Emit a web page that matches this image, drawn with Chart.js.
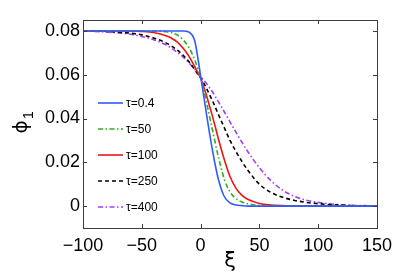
<!DOCTYPE html>
<html>
<head>
<meta charset="utf-8">
<script src="https://cdn.jsdelivr.net/npm/chart.js@4.4.0/dist/chart.umd.min.js"></script>
<style>
html,body{margin:0;padding:0;background:#fff;}
#wrap{width:417px;height:275px;}
</style>
</head>
<body>
<div id="wrap"><canvas id="c" width="417" height="275"></canvas></div>
<script>
// ---- data ----
const xi = [-100,-80,-60,-50,-40,-30,-25,-20,-15,-10,-5,-2,0,2,5,8,10,12,15,20,25,30,35,40,50,60,70,80,90,100,120,150];
const tau04  = [0.0800,0.0800,0.0800,0.0800,0.0800,0.0800,0.0800,0.0800,0.0800,0.0795,0.0755,0.0665,0.0595,0.0525,0.0420,0.0320,0.0258,0.0200,0.0125,0.0045,0.0015,0.0005,0.0002,0,0,0,0,0,0,0,0,0];
const tau50  = [0.0800,0.0800,0.0800,0.0800,0.0800,0.0797,0.0793,0.0782,0.0760,0.0725,0.0668,0.0622,0.0588,0.0545,0.0475,0.0400,0.0350,0.0300,0.0228,0.0125,0.0065,0.0035,0.0019,0.0011,0.0003,0,0,0,0,0,0,0];
const tau100 = [0.0800,0.0800,0.0800,0.0798,0.0793,0.0779,0.0768,0.0750,0.0722,0.0685,0.0637,0.0605,0.0585,0.0555,0.0505,0.0450,0.0412,0.0372,0.0310,0.0215,0.0135,0.0082,0.0050,0.0031,0.0012,0.0005,0.0002,0,0,0,0,0];
const tau250 = [0.0800,0.0798,0.0790,0.0782,0.0768,0.0747,0.0732,0.0713,0.0690,0.0660,0.0624,0.0600,0.0586,0.0568,0.0538,0.0505,0.0482,0.0458,0.0420,0.0360,0.0300,0.0250,0.0205,0.0165,0.0100,0.0062,0.0040,0.0026,0.0017,0.0011,0.0004,0];
const tau400 = [0.0800,0.0795,0.0785,0.0775,0.0760,0.0738,0.0722,0.0703,0.0682,0.0655,0.0625,0.0606,0.0593,0.0580,0.0560,0.0538,0.0522,0.0505,0.0478,0.0432,0.0385,0.0338,0.0293,0.0250,0.0175,0.0115,0.0072,0.0044,0.0027,0.0017,0.0006,0.0001];
const seriesLabels = ['τ=0.4','τ=50','τ=100','τ=250','τ=400'];
const xTickValues = [-100,-50,0,50,100,150];
const yTickValues = [0,0.02,0.04,0.06,0.08];
const xTitle = 'ξ';
const yTitle = 'ϕ';
const yTitleSub = '1';

const pts = arr => xi.map((x,i)=>({x:x,y:arr[i]}));
const styles = [
  {color:'#2f5cff', dash:[], w:1.6},
  {color:'#2fae1c', dash:[5,2.5,1.5,2.5], w:1.6},
  {color:'#ee1515', dash:[], w:1.6},
  {color:'#000000', dash:[4,3], w:1.6},
  {color:'#a23cff', dash:[5,2.5,1.5,2.5], w:1.6}
];
const values = [tau04,tau50,tau100,tau250,tau400];
const datasets = values.map((v,i)=>({
  label: seriesLabels[i],
  data: pts(v),
  borderColor: styles[i].color,
  borderDash: styles[i].dash,
  borderWidth: styles[i].w,
  pointRadius: 0,
  fill: false,
  cubicInterpolationMode: 'monotone'
}));

const FONT = '"Liberation Sans", Arial, Helvetica, sans-serif';
const AX = '#3c3c3c';

const deco = {
  id:'deco',
  afterDraw(chart){
    const ctx = chart.ctx, a = chart.chartArea;
    const xs = chart.scales.x, ys = chart.scales.y;
    ctx.save();
    ctx.strokeStyle = AX; ctx.lineWidth = 1;
    ctx.strokeRect(Math.round(a.left)+0.5, Math.round(a.top)+0.5, Math.round(a.right-a.left), Math.round(a.bottom-a.top));
    const tl = 4;
    ctx.beginPath();
    xTickValues.forEach(v=>{
      const p = Math.round(xs.getPixelForValue(v))+0.5;
      ctx.moveTo(p, a.bottom); ctx.lineTo(p, a.bottom-tl);
      ctx.moveTo(p, a.top); ctx.lineTo(p, a.top+tl);
    });
    yTickValues.forEach(v=>{
      const p = Math.round(ys.getPixelForValue(v))+0.5;
      ctx.moveTo(a.left, p); ctx.lineTo(a.left+tl, p);
      ctx.moveTo(a.right, p); ctx.lineTo(a.right-tl, p);
    });
    ctx.stroke();
    // legend
    const lx0 = 98, lx1 = 123, ly0 = 103, dy = 26;
    chart.data.datasets.forEach((d,i)=>{
      const y = ly0 + i*dy;
      ctx.strokeStyle = d.borderColor; ctx.lineWidth = d.borderWidth;
      ctx.setLineDash(d.borderDash);
      ctx.beginPath(); ctx.moveTo(lx0,y); ctx.lineTo(lx1,y); ctx.stroke();
      ctx.setLineDash([]);
      ctx.fillStyle = '#000';
      ctx.font = '12px ' + FONT;
      ctx.textAlign = 'left'; ctx.textBaseline = 'middle';
      ctx.fillText(d.label, 126, y+1);
    });
    // axis titles
    ctx.fillStyle = '#000';
    ctx.font = '21px "DejaVu Sans", sans-serif';
    ctx.textAlign = 'center'; ctx.textBaseline = 'middle';
    ctx.fillText(xTitle, (a.left+a.right)/2, 262);
    ctx.save();
    ctx.translate(22, (a.top+a.bottom)/2);
    ctx.rotate(-Math.PI/2);
    ctx.font = '20px "DejaVu Sans", sans-serif';
    ctx.textAlign = 'center';
    ctx.fillText(yTitle, -3, 0);
    ctx.font = '14px ' + FONT;
    ctx.fillText(yTitleSub, 9, 7);
    ctx.restore();
    ctx.restore();
  }
};

new Chart(document.getElementById('c'), {
  type:'line',
  data:{datasets},
  plugins:[deco],
  options:{
    responsive:false,
    animation:false,
    layout:{padding:{left:0,top:20,right:40,bottom:0}},
    plugins:{legend:{display:false}, tooltip:{enabled:false}},
    scales:{
      x:{
        type:'linear', min:-100, max:150,
        afterBuildTicks: s => { s.ticks = xTickValues.map(v=>({value:v})); },
        afterFit: s => { s.height = 47; },
        grid:{display:false, drawTicks:false},
        border:{display:false},
        ticks:{color:'#000', padding:7, maxRotation:0, font:{family:FONT,size:18},
          callback: v => (v<0 ? '\u2212' + Math.abs(v) : String(v))}
      },
      y:{
        type:'linear', min:-0.01, max:0.085,
        afterBuildTicks: s => { s.ticks = yTickValues.map(v=>({value:v})); },
        afterFit: s => { s.width = 83; },
        grid:{display:false, drawTicks:false},
        border:{display:false},
        ticks:{color:'#000', padding:3, font:{family:FONT,size:18},
          callback: v => (v===0 ? '0' : v.toFixed(2))}
      }
    }
  }
});
</script>
</body>
</html>
